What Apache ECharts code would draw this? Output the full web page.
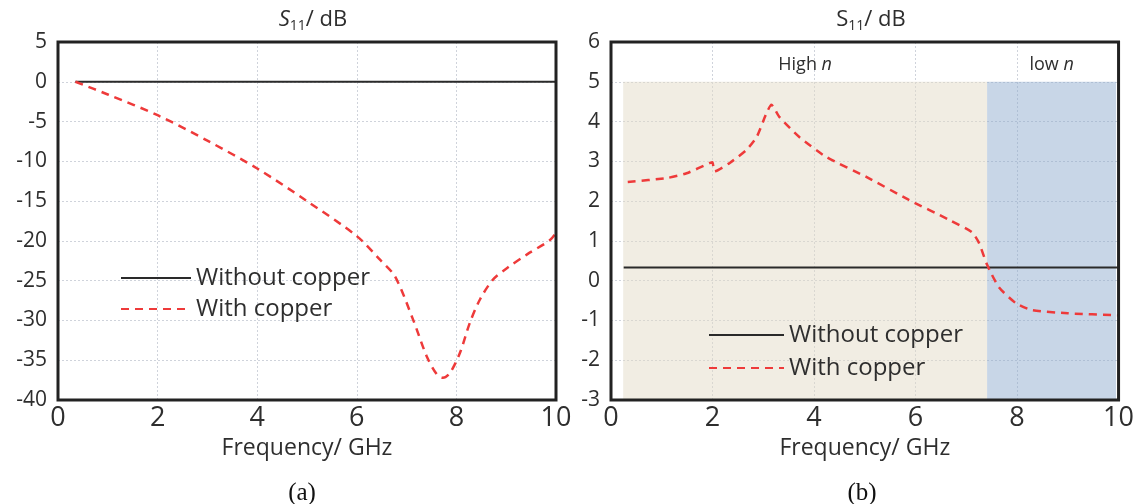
<!DOCTYPE html>
<html>
<head>
<meta charset="utf-8">
<script src="https://cdn.jsdelivr.net/npm/echarts@6/dist/echarts.min.js"></script>
<style>
html,body{margin:0;padding:0;background:#fff;}
#main{width:1137px;height:504px;}
</style>
</head>
<body>
<div id="main"></div>
<script>
// ---- data ----
const yRangeA = [-40, 5];
const yRangeB = [-3, 6];

const aWithoutX = [0.35, 10];
const aWithoutY = [0, 0];
const aWithX = [0.35, 1.0, 2.0, 3.0, 4.0, 5.0, 6.0, 6.47, 6.77, 7.13, 7.41, 7.61, 7.73, 7.87, 8.07, 8.27, 8.47, 8.73, 9.02, 9.42, 9.88, 10.0];
const aWithY = [0, -1.6, -4.2, -7.4, -10.9, -15.0, -19.4, -22.4, -24.5, -29.9, -34.6, -36.8, -37.2, -36.6, -34.1, -30.3, -27.4, -24.9, -23.4, -21.7, -19.9, -19.0];

const bWithoutX = [0.25, 10];
const bWithoutY = [0.33, 0.33];
const bWithX = [0.33, 1.1, 1.49, 1.95, 2.0, 2.04, 2.34, 2.67, 2.87, 3.06, 3.16, 3.32, 3.71, 4.24, 5.03, 5.87, 6.66, 7.11, 7.25, 7.41, 7.64, 7.98, 8.29, 9.0, 10.0];
const bWithY = [2.48, 2.58, 2.7, 2.96, 2.98, 2.75, 2.96, 3.29, 3.61, 4.2, 4.42, 4.11, 3.61, 3.11, 2.61, 2.03, 1.53, 1.22, 0.95, 0.4, -0.16, -0.57, -0.74, -0.82, -0.87];

const highRegion = [0.24, 7.41];
const lowRegion = [7.41, 9.95];
const regionY = [-3, 5];

const seriesNames = ['Without copper', 'With copper'];
const titleText = 'S11/ dB';
const xName = 'Frequency/ GHz';
const panelLabels = ['(a)', '(b)'];

function pairs(xs, ys) { return xs.map((x, i) => [x, ys[i]]); }

const FONT = 'Open Sans';
const TXT = '#2e2e2e';
const RED = '#ee3a3a';

const gridStyle = { show: true, z: 10, borderColor: '#222', borderWidth: 3, backgroundColor: 'transparent' };
const grids = [
  Object.assign({ left: 58, top: 42, width: 498, height: 358 }, gridStyle),
  Object.assign({ left: 611, top: 42, width: 509, height: 358 }, gridStyle)
];

const splitStyle = { show: true, showMinLine: false, showMaxLine: false, lineStyle: { color: '#cfd3db', type: [2, 2], width: 1 } };

function xAxis(gi) {
  return {
    type: 'value', gridIndex: gi, min: 0, max: 10, interval: 2,
    name: xName, nameLocation: 'middle', nameGap: 33,
    nameTextStyle: { fontFamily: FONT, fontSize: 23, color: TXT },
    axisLine: { show: false }, axisTick: { show: false },
    axisLabel: { fontFamily: FONT, fontSize: 27, color: TXT, margin: 5 },
    splitLine: splitStyle
  };
}
function yAxis(gi, r, iv) {
  return {
    type: 'value', gridIndex: gi, min: r[0], max: r[1], interval: iv,
    axisLine: { show: false }, axisTick: { show: false },
    axisLabel: { fontFamily: FONT, fontSize: 21, color: TXT, margin: 11 },
    splitLine: splitStyle
  };
}

const blackLine = { color: '#2a2a2a', width: 2, type: 'solid' };
const redLine = { color: RED, width: 2.5, type: [8, 6] };

function titleRich(italic) {
  return {
    s: { fontFamily: FONT, fontSize: 22, color: TXT, fontWeight: 'normal', fontStyle: italic ? 'italic' : 'normal' },
    sub: { fontFamily: FONT, fontSize: 14, color: TXT, fontWeight: 'normal', padding: [12, 0, 0, 0] },
    t: { fontFamily: FONT, fontSize: 22, color: TXT, fontWeight: 'normal' }
  };
}
const tFmt = '{s|' + titleText.slice(0, 1) + '}{sub|' + titleText.slice(1, 3) + '}{t|' + titleText.slice(3) + '}';

const legendCommon = {
  orient: 'vertical', itemHeight: 14, selectedMode: false,
  data: seriesNames,
  itemStyle: { opacity: 0 },
  textStyle: { fontFamily: FONT, fontSize: 24, color: TXT }
};

const option = {
  backgroundColor: '#fff',
  animation: false,
  title: [
    { text: tFmt, left: 308, top: 2, textAlign: 'center', textStyle: { fontWeight: 'normal', rich: titleRich(true) } },
    { text: tFmt, left: 866, top: 2, textAlign: 'center', textStyle: { fontWeight: 'normal', rich: titleRich(false) } },
    { text: panelLabels[0], left: 297, top: 476, textAlign: 'center', textStyle: { fontFamily: 'Liberation Serif', fontSize: 25, fontWeight: 'normal', color: '#111' } },
    { text: panelLabels[1], left: 857, top: 476, textAlign: 'center', textStyle: { fontFamily: 'Liberation Serif', fontSize: 25, fontWeight: 'normal', color: '#111' } }
  ],
  legend: [
    Object.assign({ left: 115, top: 261, itemWidth: 70, itemGap: 7 }, legendCommon),
    Object.assign({ left: 703, top: 318, itemWidth: 75, itemGap: 9 }, legendCommon)
  ],
  grid: grids,
  xAxis: [xAxis(0), xAxis(1)],
  yAxis: [yAxis(0, yRangeA, 5), yAxis(1, yRangeB, 1)],
  series: [
    { name: seriesNames[0], type: 'line', xAxisIndex: 0, yAxisIndex: 0, symbol: 'none',
      data: pairs(aWithoutX, aWithoutY), lineStyle: blackLine, itemStyle: { color: '#2a2a2a' }, z: 3 },
    { name: seriesNames[1], type: 'line', xAxisIndex: 0, yAxisIndex: 0, symbol: 'none', smooth: 0.3,
      data: pairs(aWithX, aWithY), lineStyle: redLine, itemStyle: { color: RED }, z: 4 },
    { name: seriesNames[0], type: 'line', xAxisIndex: 1, yAxisIndex: 1, symbol: 'none',
      data: pairs(bWithoutX, bWithoutY), lineStyle: blackLine, itemStyle: { color: '#2a2a2a' }, z: 3,
      markArea: {
        silent: true,
        label: {
          show: true, position: 'top', distance: 8,
          rich: {
            a: { fontFamily: FONT, fontSize: 18, color: TXT },
            b: { fontFamily: FONT, fontSize: 18, color: TXT, fontStyle: 'italic' }
          }
        },
        data: [
          [{ xAxis: highRegion[0], yAxis: regionY[0], name: 'High n',
             itemStyle: { color: 'rgba(228,220,200,0.5)' }, label: { formatter: '{a|High }{b|n}' } },
           { xAxis: highRegion[1], yAxis: regionY[1] }],
          [{ xAxis: lowRegion[0], yAxis: regionY[0], name: 'low n',
             itemStyle: { color: 'rgba(140,170,205,0.48)' }, label: { formatter: '{a|low }{b|n}' } },
           { xAxis: lowRegion[1], yAxis: regionY[1] }]
        ]
      } },
    { name: seriesNames[1], type: 'line', xAxisIndex: 1, yAxisIndex: 1, symbol: 'none', smooth: 0.2,
      data: pairs(bWithX, bWithY), lineStyle: redLine, itemStyle: { color: RED }, z: 4 }
  ]
};

const chart = echarts.init(document.getElementById('main'), null, { renderer: 'canvas' });
chart.setOption(option);
</script>
</body>
</html>
